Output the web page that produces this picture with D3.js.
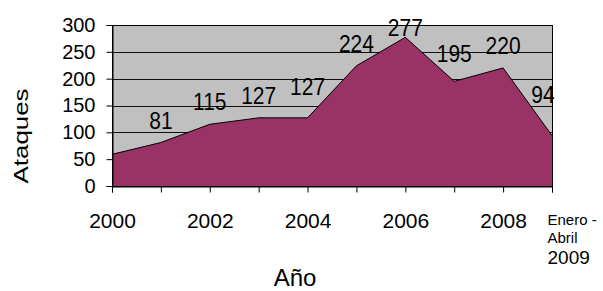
<!DOCTYPE html>
<html>
<head>
<meta charset="utf-8">
<script src="https://cdn.jsdelivr.net/npm/d3@7"></script>
<style>
  body { margin: 0; background: #fff; }
  text { font-family: "Liberation Sans", Arial, sans-serif; fill: #000; }
</style>
</head>
<body>
<script>
// data
var years = ['2000', '2001', '2002', '2003', '2004', '2005', '2006', '2007', '2008', '2009'];
var attacks = [59, 81, 115, 127, 127, 224, 277, 195, 220, 94];
var yTicks = [0, 50, 100, 150, 200, 250, 300];
var lastLabel = ['Enero -', 'Abril', '2009'];

var w = 603, h = 291;
var plotL = 112, plotR = 552, plotT = 25, plotB = 186;

var svg = d3.select('body').append('svg')
  .attr('width', w)
  .attr('height', h);

var x = d3.scalePoint()
  .domain(years)
  .range([plotL, plotR]);
var y = d3.scaleLinear()
  .domain([0, 300])
  .range([plotB, plotT]);

// plot background
svg.append('rect')
  .attr('x', plotL).attr('y', plotT)
  .attr('width', plotR - plotL).attr('height', plotB - plotT)
  .attr('fill', '#c0c0c0');

// gridlines
svg.selectAll('line.grid')
  .data(yTicks.filter(function (d) { return d > 0 && d < 300; }))
  .enter()
  .append('line')
  .attr('class', 'grid')
  .attr('x1', plotL).attr('x2', plotR)
  .attr('y1', function (d) { return Math.round(y(d)) + 0.5; })
  .attr('y2', function (d) { return Math.round(y(d)) + 0.5; })
  .attr('stroke', '#111')
  .attr('stroke-width', 1);

var area = d3.area()
  .x(function (d, i) { return x(years[i]); })
  .y0(plotB)
  .y1(function (d) { return y(d); });
var line = d3.line()
  .x(function (d, i) { return x(years[i]); })
  .y(function (d) { return y(d); });

svg.append('path')
  .datum(attacks)
  .attr('d', area)
  .attr('fill', '#993366');
svg.append('path')
  .datum(attacks)
  .attr('d', line)
  .attr('fill', 'none')
  .attr('stroke', '#000')
  .attr('stroke-width', 1);

// plot border
svg.append('rect')
  .attr('x', plotL + 0.5).attr('y', plotT + 0.5)
  .attr('width', plotR - plotL).attr('height', plotB - plotT)
  .attr('fill', 'none')
  .attr('stroke', '#000')
  .attr('stroke-width', 1);

// y axis
var yAxis = svg.append('g')
  .attr('transform', 'translate(' + (plotL + 0.5) + ',0)')
  .call(d3.axisLeft(y).tickValues(yTicks).tickSize(6).tickPadding(11));
yAxis.attr('font-family', null).attr('font-size', null);
yAxis.selectAll('text').style('font-size', '20px');
yAxis.select('.domain').attr('stroke', '#000');

// x axis
var xAxis = svg.append('g')
  .attr('transform', 'translate(0,' + (plotB + 0.5) + ')')
  .call(d3.axisBottom(x).tickSize(6).tickFormat(function (d, i) {
    return (i % 2 === 0) ? d : '';
  }));
xAxis.attr('font-family', null).attr('font-size', null);
xAxis.selectAll('text')
  .style('font-size', '21px')
  .attr('y', 41)
  .attr('dy', 0);
xAxis.select('.domain').attr('stroke', '#000');

// multi-line label for the last category
var lastTick = xAxis.selectAll('.tick').filter(function (d) { return d === years[years.length - 1]; });
lastTick.select('text').remove();
var lt = lastTick.append('text')
  .attr('text-anchor', 'start')
  .attr('fill', '#000');
lt.selectAll('tspan')
  .data(lastLabel)
  .enter()
  .append('tspan')
  .attr('x', -5)
  .attr('y', function (d, i) { return [38, 56, 77][i]; })
  .style('font-size', function (d, i) { return i < 2 ? '15px' : '19px'; })
  .text(function (d) { return d; });

// y of the line at any pixel x (to keep labels clear of it)
var xs = years.map(function (d) { return x(d); });
var ys = attacks.map(function (d) { return y(d); });
function lineY(px) {
  px = Math.max(plotL, Math.min(plotR, px));
  for (var k = 0; k < xs.length - 1; k++) {
    if (px <= xs[k + 1]) {
      var t = (px - xs[k]) / (xs[k + 1] - xs[k]);
      return ys[k] + t * (ys[k + 1] - ys[k]);
    }
  }
  return ys[ys.length - 1];
}

// data labels (a bit taller than wide, like the original)
svg.selectAll('text.val')
  .data(attacks.slice(1))
  .enter()
  .append('text')
  .attr('class', 'val')
  .attr('text-anchor', 'middle')
  .style('font-size', '21px')
  .attr('transform', function (d, i) {
    var half = String(d).length * 0.556 * 21 / 2;
    var lx = Math.min(x(years[i + 1]), plotR - 9);
    var clear = Math.min(lineY(lx - half), lineY(lx + half)) - 4;
    var ly = Math.max(Math.min(y(d) - 14, clear), 36);
    return 'translate(' + lx + ',' + ly + ') scale(1,1.12)';
  })
  .text(function (d) { return d; });

// axis titles
svg.append('text')
  .attr('transform', 'translate(28,136) rotate(-90)')
  .attr('text-anchor', 'middle')
  .style('font-size', '21px')
  .attr('textLength', 95)
  .attr('lengthAdjust', 'spacingAndGlyphs')
  .text('Ataques');

svg.append('text')
  .attr('x', 295).attr('y', 286)
  .attr('text-anchor', 'middle')
  .style('font-size', '24px')
  .text('Año');
</script>
</body>
</html>
